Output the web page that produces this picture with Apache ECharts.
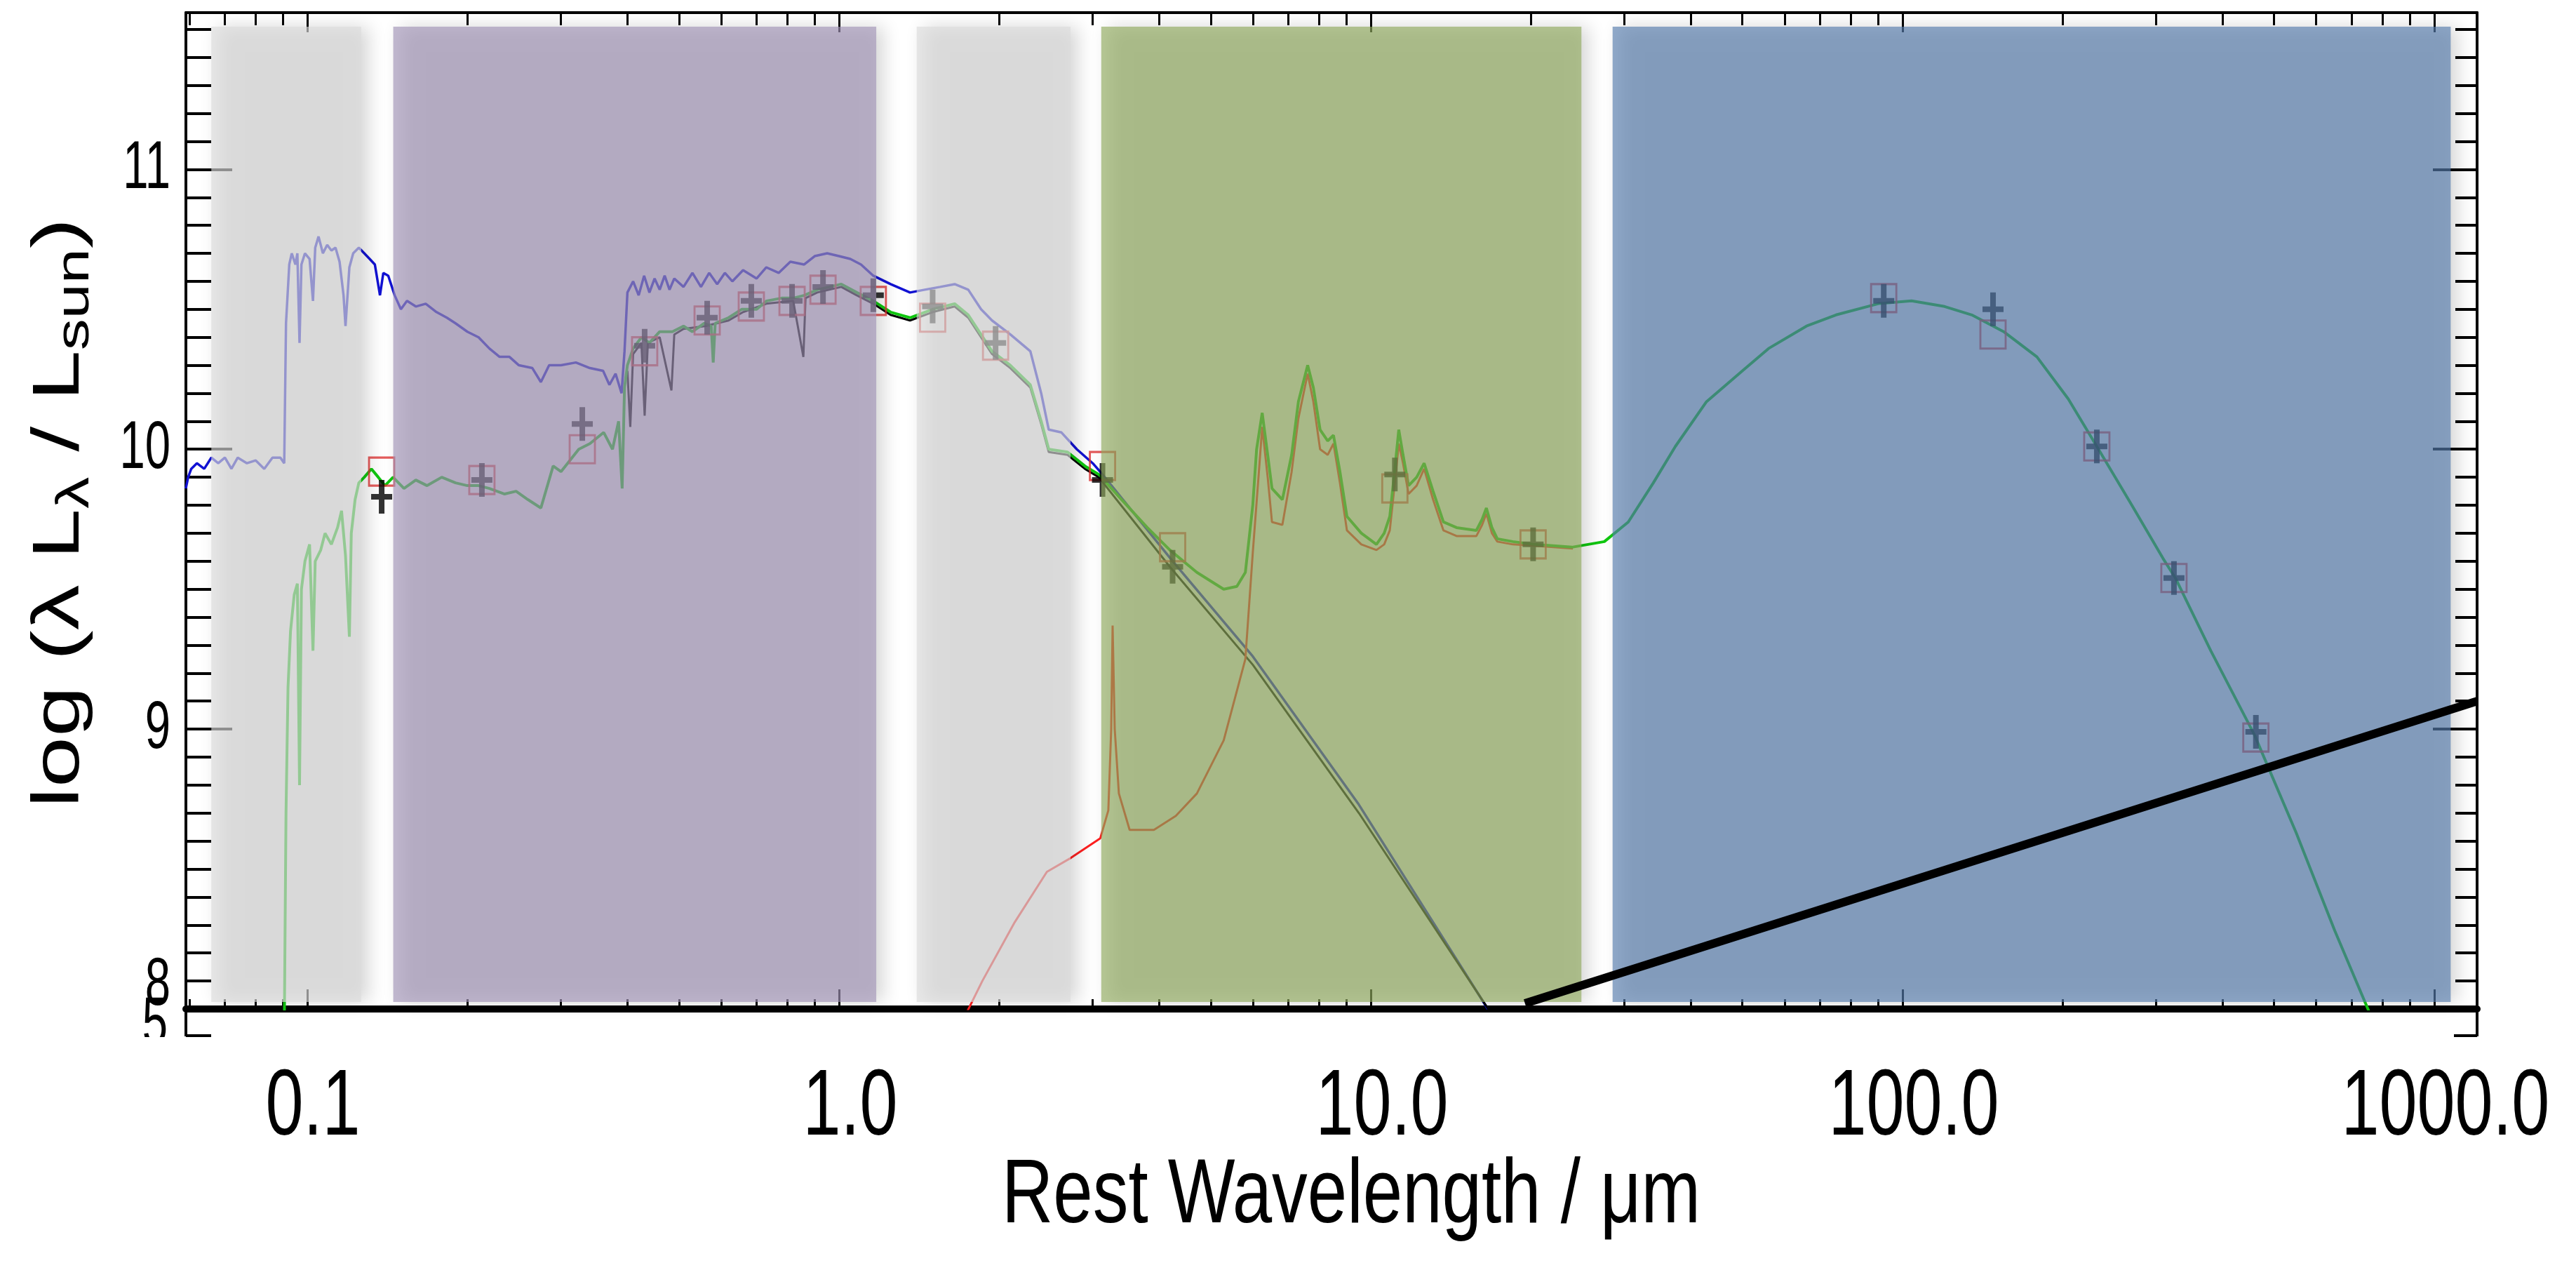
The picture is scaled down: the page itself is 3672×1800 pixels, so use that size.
<!DOCTYPE html>
<html>
<head>
<meta charset="utf-8">
<script src="https://cdn.jsdelivr.net/npm/echarts@6/dist/echarts.min.js"></script>
<style>
  html, body { margin: 0; padding: 0; background: #fff; }
  #chart { width: 3672px; height: 1800px; }
</style>
</head>
<body>
<div id="chart"></div>
<script>
// axis ranges (wavelength in micron, log luminosity)
const xMin = 0.05912, xMax = 1204
const yMin = 8, yMax = 11.56
const xMajorTicks = [0.1, 1, 10, 100, 1000]
const xTickLabels = ['0.1', '1.0', '10.0', '100.0', '1000.0']
const yMajorTicks = [8, 9, 10, 11]
const yTickLabels = ['8', '9', '10', '11']

// shaded wavelength regions
const bandRanges = [[0.0660, 0.1263], [0.1451, 1.175], [1.40, 2.725], [3.113, 24.9], [28.5, 1074]]
const bandLum = [8.025, 11.51]

// photometry
const photWave = [0.138, 0.213, 0.329, 0.431, 0.565, 0.684, 0.816, 0.933, 1.16, 1.50, 1.97, 3.13, 4.24, 11.1, 20.2, 92.2, 148, 232, 324, 462]
const photObs = [9.83, 9.89, 10.09, 10.37, 10.47, 10.53, 10.53, 10.58, 10.55, 10.51, 10.38, 9.89, 9.58, 9.91, 9.66, 10.53, 10.50, 10.01, 9.54, 8.99]
const photModel = [9.92, 9.89, 10.00, 10.35, 10.46, 10.51, 10.53, 10.57, 10.53, 10.47, 10.37, 9.94, 9.65, 9.86, 9.66, 10.54, 10.41, 10.01, 9.54, 8.97]

// unattenuated stellar spectrum
const blueSpec = [[0.0591, 9.86], [0.0597, 9.90], [0.0605, 9.93], [0.062, 9.95], [0.064, 9.93], [0.066, 9.97], [0.068, 9.95], [0.070, 9.97], [0.072, 9.93], [0.074, 9.97], [0.077, 9.95], [0.080, 9.96], [0.083, 9.93], [0.086, 9.97], [0.089, 9.97], [0.0905, 9.95], [0.0912, 10.45], [0.0925, 10.66], [0.0935, 10.70], [0.095, 10.66], [0.0958, 10.70], [0.0967, 10.38], [0.0975, 10.66], [0.099, 10.70], [0.101, 10.68], [0.1025, 10.53], [0.1035, 10.72], [0.105, 10.76], [0.107, 10.70], [0.109, 10.73], [0.111, 10.71], [0.113, 10.72], [0.115, 10.67], [0.117, 10.55], [0.118, 10.44], [0.120, 10.65], [0.122, 10.70], [0.125, 10.72], [0.128, 10.70], [0.131, 10.68], [0.134, 10.66], [0.137, 10.55], [0.139, 10.63], [0.142, 10.62], [0.146, 10.55], [0.150, 10.50], [0.154, 10.53], [0.160, 10.51], [0.167, 10.52], [0.175, 10.49], [0.183, 10.47], [0.19, 10.45], [0.20, 10.42], [0.21, 10.40], [0.22, 10.36], [0.23, 10.33], [0.24, 10.33], [0.25, 10.30], [0.265, 10.29], [0.275, 10.24], [0.285, 10.30], [0.30, 10.30], [0.32, 10.31], [0.34, 10.29], [0.36, 10.28], [0.37, 10.23], [0.38, 10.27], [0.39, 10.20], [0.395, 10.35], [0.40, 10.56], [0.41, 10.60], [0.42, 10.55], [0.43, 10.62], [0.44, 10.56], [0.45, 10.61], [0.46, 10.57], [0.47, 10.62], [0.48, 10.57], [0.49, 10.61], [0.51, 10.58], [0.53, 10.63], [0.55, 10.58], [0.57, 10.63], [0.59, 10.59], [0.61, 10.63], [0.63, 10.60], [0.66, 10.64], [0.70, 10.61], [0.73, 10.65], [0.77, 10.63], [0.81, 10.67], [0.86, 10.66], [0.90, 10.69], [0.95, 10.70], [1.00, 10.69], [1.05, 10.68], [1.10, 10.66], [1.16, 10.62], [1.25, 10.59], [1.36, 10.56], [1.45, 10.57], [1.55, 10.58], [1.65, 10.59], [1.75, 10.57], [1.85, 10.50], [1.94, 10.46], [2.1, 10.41], [2.29, 10.35], [2.40, 10.20], [2.48, 10.07], [2.62, 10.06], [2.8, 10.00], [3.0, 9.95], [3.13, 9.91], [4.2, 9.61], [6.0, 9.26], [9.5, 8.73], [16.6, 8.0]]

// attenuated stellar spectrum
const blackSpec = [[0.40, 10.28], [0.405, 10.08], [0.41, 10.34], [0.425, 10.38], [0.431, 10.12], [0.437, 10.38], [0.46, 10.40], [0.484, 10.21], [0.49, 10.41], [0.51, 10.43], [0.56, 10.44], [0.62, 10.46], [0.66, 10.49], [0.73, 10.52], [0.82, 10.53], [0.857, 10.33], [0.865, 10.54], [0.91, 10.56], [1.01, 10.58], [1.08, 10.55], [1.16, 10.52], [1.25, 10.48], [1.36, 10.46], [1.50, 10.49], [1.65, 10.51], [1.75, 10.47], [1.94, 10.34], [2.1, 10.29], [2.29, 10.22], [2.40, 10.09], [2.48, 9.99], [2.69, 9.98], [2.9, 9.93], [3.08, 9.90], [4.19, 9.58], [6.0, 9.23], [9.5, 8.70], [16.9, 7.98]]

// dust emission
const redSpec = [[1.70, 7.95], [1.86, 8.10], [2.14, 8.31], [2.46, 8.49], [2.73, 8.54], [3.10, 8.61], [3.21, 8.71], [3.25, 9.0], [3.27, 9.37], [3.30, 9.0], [3.36, 8.77], [3.52, 8.64], [3.91, 8.64], [4.3, 8.69], [4.71, 8.77], [5.29, 8.96], [5.81, 9.25], [6.0, 9.63], [6.15, 9.90], [6.25, 10.08], [6.4, 9.90], [6.52, 9.74], [6.82, 9.73], [7.1, 9.92], [7.31, 10.11], [7.61, 10.27], [7.8, 10.17], [8.03, 10.00], [8.3, 9.98], [8.51, 10.02], [8.75, 9.88], [9.02, 9.71], [9.6, 9.66], [10.25, 9.64], [10.6, 9.66], [10.86, 9.71], [11.1, 9.88], [11.29, 10.02], [11.5, 9.95], [11.78, 9.84], [12.2, 9.87], [12.6, 9.93], [13.1, 9.82], [13.7, 9.71], [14.5, 9.69], [15.8, 9.69], [16.2, 9.73], [16.5, 9.77], [16.9, 9.70], [17.3, 9.67], [18.5, 9.66], [20.3, 9.655], [24, 9.645]]

// total model
const greenSpec = [[0.0905, 7.9], [0.0912, 8.7], [0.092, 9.15], [0.093, 9.35], [0.0945, 9.48], [0.0958, 9.52], [0.0967, 8.80], [0.0975, 9.50], [0.099, 9.60], [0.101, 9.66], [0.1025, 9.28], [0.1035, 9.60], [0.106, 9.64], [0.108, 9.70], [0.111, 9.66], [0.114, 9.72], [0.116, 9.78], [0.118, 9.62], [0.120, 9.33], [0.121, 9.70], [0.123, 9.82], [0.125, 9.88], [0.128, 9.90], [0.132, 9.93], [0.136, 9.90], [0.140, 9.87], [0.145, 9.90], [0.152, 9.86], [0.160, 9.89], [0.168, 9.87], [0.179, 9.90], [0.19, 9.88], [0.20, 9.87], [0.21, 9.87], [0.22, 9.86], [0.235, 9.84], [0.247, 9.85], [0.26, 9.82], [0.275, 9.79], [0.29, 9.94], [0.30, 9.92], [0.324, 10.00], [0.34, 10.02], [0.361, 10.06], [0.375, 10.00], [0.385, 10.10], [0.391, 9.86], [0.395, 10.22], [0.40, 10.30], [0.41, 10.36], [0.425, 10.40], [0.44, 10.38], [0.46, 10.42], [0.486, 10.42], [0.51, 10.44], [0.53, 10.42], [0.558, 10.45], [0.575, 10.44], [0.58, 10.31], [0.585, 10.45], [0.62, 10.47], [0.656, 10.50], [0.70, 10.50], [0.731, 10.53], [0.78, 10.54], [0.82, 10.54], [0.861, 10.55], [0.91, 10.57], [0.96, 10.58], [1.01, 10.59], [1.08, 10.56], [1.16, 10.53], [1.25, 10.49], [1.36, 10.47], [1.50, 10.50], [1.65, 10.52], [1.75, 10.48], [1.94, 10.35], [2.1, 10.30], [2.29, 10.23], [2.40, 10.10], [2.48, 10.00], [2.69, 9.99], [2.9, 9.94], [3.08, 9.91], [3.4, 9.82], [3.8, 9.72], [4.19, 9.64], [4.71, 9.56], [5.29, 9.50], [5.6, 9.51], [5.81, 9.56], [6.0, 9.80], [6.1, 10.00], [6.25, 10.13], [6.4, 9.98], [6.52, 9.86], [6.82, 9.82], [7.1, 9.98], [7.31, 10.17], [7.61, 10.30], [7.8, 10.22], [8.03, 10.07], [8.3, 10.03], [8.51, 10.05], [8.75, 9.92], [9.02, 9.76], [9.6, 9.70], [10.25, 9.66], [10.6, 9.70], [10.86, 9.76], [11.1, 9.93], [11.29, 10.07], [11.5, 9.98], [11.78, 9.87], [12.2, 9.90], [12.6, 9.95], [13.1, 9.85], [13.7, 9.74], [14.5, 9.72], [15.8, 9.71], [16.2, 9.75], [16.5, 9.79], [16.9, 9.72], [17.3, 9.68], [18.5, 9.67], [20.3, 9.66], [23.9, 9.65], [27.5, 9.67], [30.5, 9.74], [34, 9.88], [37.4, 10.01], [42.8, 10.17], [50, 10.28], [56, 10.36], [66, 10.44], [75, 10.48], [90, 10.52], [104, 10.53], [120, 10.51], [135, 10.48], [155, 10.42], [179, 10.33], [205, 10.18], [232, 10.01], [270, 9.80], [309, 9.61], [326, 9.54], [380, 9.28], [459, 8.98], [550, 8.63], [650, 8.28], [770, 7.95]]

// thick straight line drawn over the plot
const slopeLine = [[19.5, 8.02], [1204, 9.10]]

const FONT = "'Liberation Sans', Arial, sans-serif"
const bandColors = ['rgba(219,219,219,0.65)', 'rgba(162,148,183,0.65)', 'rgba(219,219,219,0.65)', 'rgba(145,171,94,0.65)', 'rgba(86,125,173,0.65)']

const lg = Math.log10
const toXY = arr => arr.map(p => [lg(p[0]), p[1]])

const xMinorTicks = []
for (let d = -2; d <= 3; d++) {
  for (let k = 2; k <= 9; k++) {
    const v = k * Math.pow(10, d)
    if (v > xMin && v < xMax) xMinorTicks.push(v)
  }
}
const yMinorTicks = []
for (let i = 81; i <= 115; i++) {
  if (i % 10) yMinorTicks.push(i / 10)
}

function xAx(pos, ticks, len, lineShow, lineW) {
  return {
    type: 'value', gridIndex: 0, position: pos, min: lg(xMin), max: lg(xMax),
    axisLine: {show: lineShow, onZero: false, lineStyle: {color: '#000', width: lineW}},
    axisTick: {show: true, inside: true, length: len, customValues: ticks.map(lg), lineStyle: {color: '#000', width: 3}},
    axisLabel: {show: false}, splitLine: {show: false}
  }
}
function yAx(pos, ticks, len, lineShow) {
  return {
    type: 'value', gridIndex: 0, position: pos, min: yMin, max: yMax,
    axisLine: {show: lineShow, onZero: false, lineStyle: {color: '#000', width: 4}},
    axisTick: {show: true, inside: true, length: len, customValues: ticks, lineStyle: {color: '#000', width: 4}},
    axisLabel: {show: false}, splitLine: {show: false}
  }
}

const crossPath = 'path://M-4,-24H4V-4H15V4H4V24H-4V4H-15V-4H-4Z'

const chart = echarts.init(document.getElementById('chart'))
chart.setOption({
  animation: false,
  backgroundColor: '#fff',
  grid: {left: 265, right: 141, top: 18, bottom: 362, containLabel: false, outerBoundsMode: 'none'},
  xAxis: [
    xAx('bottom', xMajorTicks, 28, true, 10),
    xAx('bottom', xMinorTicks, 14, false, 0),
    xAx('top', xMajorTicks, 28, true, 4),
    xAx('top', xMinorTicks, 18, false, 0)
  ],
  yAxis: [
    yAx('left', yMajorTicks, 66, true),
    yAx('left', yMinorTicks, 36, false),
    yAx('right', yMajorTicks, 63, true),
    yAx('right', yMinorTicks, 31, false)
  ],
  series: [
    {type: 'line', name: 'stellar', data: toXY(blueSpec), symbol: 'none', z: 2,
      lineStyle: {color: '#1212d4', width: 3.5}},
    {type: 'line', name: 'attenuated', data: toXY(blackSpec), symbol: 'none', z: 2,
      lineStyle: {color: '#000', width: 3}},
    {type: 'line', name: 'dust', data: toXY(redSpec), symbol: 'none', z: 2,
      lineStyle: {color: '#ff2020', width: 3}},
    {type: 'line', name: 'total', data: toXY(greenSpec), symbol: 'none', z: 2,
      lineStyle: {color: '#10c810', width: 4}},
    {type: 'scatter', name: 'model phot', z: 3, symbol: 'rect', symbolSize: [36, 40],
      data: photWave.map((w, i) => [lg(w), photModel[i]]),
      itemStyle: {color: 'rgba(0,0,0,0)', borderColor: '#dd3333', borderWidth: 3}},
    {type: 'scatter', name: 'observed', z: 3, symbol: crossPath, symbolSize: [30, 48],
      data: photWave.map((w, i) => [lg(w), photObs[i]]),
      itemStyle: {color: '#000'}},
    {type: 'line', name: 'bands', data: [], z: 5,
      markArea: {
        z: 5, silent: true, label: {show: false},
        data: bandRanges.map((r, i) => [
          {xAxis: lg(r[0]), yAxis: bandLum[0],
            itemStyle: {color: bandColors[i], shadowBlur: 24, shadowOffsetX: 10, shadowColor: 'rgba(0,0,0,0.25)'}},
          {xAxis: lg(r[1]), yAxis: bandLum[1]}
        ])
      }},
    {type: 'line', name: 'slope', data: toXY(slopeLine), symbol: 'none', z: 10,
      lineStyle: {color: '#000', width: 12}}
  ]
})

// text drawn as graphic elements so it can be squeezed like the original
const P = (w, v) => chart.convertToPixel({seriesIndex: 0}, [lg(w), v])
const g = []
xMajorTicks.forEach((v, i) => {
  const p = P(v, yMin)
  g.push({type: 'text', x: p[0] + (i === 0 ? 8 : 16), y: 1580, scaleX: 0.73, z: 50,
    style: {text: xTickLabels[i], fontSize: 133, fontFamily: FONT, fill: '#000',
      align: 'center', verticalAlign: 'middle', textAlign: 'center', textVerticalAlign: 'middle'}})
})
yMajorTicks.forEach((v, i) => {
  const p = P(xMin, v)
  const yy = v === 8 ? p[1] - 32 : p[1]
  g.push({type: 'text', x: p[0] - 22, y: yy, scaleX: 0.68, z: 50,
    style: {text: yTickLabels[i], fontSize: 96, fontFamily: FONT, fill: '#000',
      align: 'right', verticalAlign: 'middle', textAlign: 'right', textVerticalAlign: 'middle'}})
})
// clipped stray label and axis stubs below the frame
const bl = P(xMin, yMin), br = P(xMax, yMin)
g.push({type: 'text', x: bl[0] - 26, y: bl[1] + 24, scaleX: 0.68, z: 40,
  style: {text: '5', fontSize: 96, fontFamily: FONT, fill: '#000',
    align: 'right', verticalAlign: 'middle', textAlign: 'right', textVerticalAlign: 'middle'}})
g.push({type: 'rect', z: 45, shape: {x: bl[0] - 130, y: bl[1] + 40, width: 128, height: 60}, style: {fill: '#fff'}})
g.push({type: 'line', z: 46, shape: {x1: bl[0], y1: bl[1], x2: bl[0], y2: bl[1] + 39}, style: {stroke: '#000', lineWidth: 4}})
g.push({type: 'line', z: 46, shape: {x1: bl[0], y1: bl[1] + 38, x2: bl[0] + 36, y2: bl[1] + 38}, style: {stroke: '#000', lineWidth: 4}})
g.push({type: 'line', z: 46, shape: {x1: br[0], y1: br[1], x2: br[0], y2: br[1] + 39}, style: {stroke: '#000', lineWidth: 4}})
g.push({type: 'line', z: 46, shape: {x1: br[0], y1: br[1] + 38, x2: br[0] - 33, y2: br[1] + 38}, style: {stroke: '#000', lineWidth: 4}})
// axis titles
g.push({type: 'text', x: 1926, y: 1706, scaleX: 0.78, z: 50,
  style: {text: 'Rest Wavelength / μm', fontSize: 130, fontFamily: FONT, fill: '#000',
    align: 'center', verticalAlign: 'middle', textAlign: 'center', textVerticalAlign: 'middle'}})
g.push({type: 'text', x: 86, y: 731, rotation: Math.PI / 2, scaleY: 0.73, z: 50,
  style: {text: '{a|log (λ L}{s|λ}{a| / L}{s|sun}{a|)}', align: 'center', verticalAlign: 'middle',
    textAlign: 'center', textVerticalAlign: 'middle',
    rich: {
      a: {fontSize: 130, lineHeight: 150, fontFamily: FONT, fill: '#000'},
      s: {fontSize: 90, lineHeight: 105, verticalAlign: 'bottom', fontFamily: FONT, fill: '#000'}
    }}})
chart.setOption({graphic: g})
</script>
</body>
</html>
